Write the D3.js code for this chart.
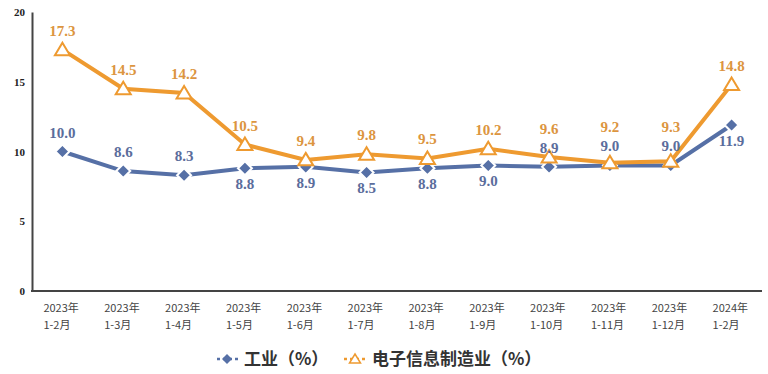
<!DOCTYPE html>
<html>
<head>
<meta charset="utf-8">
<script src="https://cdn.jsdelivr.net/npm/d3@7"></script>
<style>
  body { margin: 0; background: #fff; }
  svg { display: block; }
</style>
</head>
<body>
<svg id="chart" width="768" height="374"></svg>
<script>
// data
var periods = ['1-2月', '1-3月', '1-4月', '1-5月', '1-6月', '1-7月', '1-8月', '1-9月', '1-10月', '1-11月', '1-12月', '1-2月'];
var years = ['2023年', '2023年', '2023年', '2023年', '2023年', '2023年', '2023年', '2023年', '2023年', '2023年', '2023年', '2024年'];
var industry = [10.0, 8.6, 8.3, 8.8, 8.9, 8.5, 8.8, 9.0, 8.9, 9.0, 9.0, 11.9];
var electronics = [17.3, 14.5, 14.2, 10.5, 9.4, 9.8, 9.5, 10.2, 9.6, 9.2, 9.3, 14.8];
var yTicks = [0, 5, 10, 15, 20];
var seriesNames = ['工业（%）', '电子信息制造业（%）'];
// which side of the point each industry label sits on ('stack' = above, under the orange label)
var industryLabelSide = ['up', 'up', 'up', 'down', 'down', 'down', 'down', 'down', 'stack', 'stack', 'stack', 'down'];

var BLUE = '#5670a6',
    BLUE_TEXT = '#5b6d9c',
    ORANGE = '#ee9a30',
    ORANGE_TEXT = '#dc9540',
    LEFT = 32, RIGHT = 762, TOP = 12, BOTTOM = 291;

var svg = d3.select('#chart');
var keys = d3.range(periods.length);

var x = d3.scalePoint()
    .domain(keys)
    .range([LEFT, RIGHT])
    .padding(0.5);

var y = d3.scaleLinear()
    .domain([0, 20])
    .range([BOTTOM, TOP]);

// y axis: line plus numbers
var yAxis = svg.append('g')
    .attr('transform', `translate(${LEFT},0)`)
    .call(d3.axisLeft(y).tickValues(yTicks).tickSize(0).tickPadding(7).tickSizeOuter(0));
yAxis.select('.domain').attr('stroke', '#444').attr('stroke-width', 2);
yAxis.selectAll('text')
    .attr('font-family', '"Liberation Serif", serif')
    .attr('font-weight', 'bold')
    .attr('font-size', 11)
    .attr('fill', '#222');

// x axis
var xAxis = svg.append('g')
    .attr('transform', `translate(0,${BOTTOM})`)
    .call(d3.axisBottom(x).tickSize(0).tickSizeOuter(0).tickFormat(''));
xAxis.select('.domain').attr('stroke', '#444').attr('stroke-width', 2);
xAxis.select('.domain').attr('d', `M${LEFT - 1},0H${RIGHT}`);

var catLabels = svg.append('g')
    .attr('font-family', '"Noto Sans CJK SC", sans-serif')
    .attr('font-size', 11)
    .attr('fill', '#444');
keys.forEach(i => {
    var t = catLabels.append('text')
        .attr('x', x(i) - 19)
        .attr('y', 312);
    t.append('tspan').attr('x', x(i) - 19).text(years[i]);
    t.append('tspan').attr('x', x(i) - 19).attr('dy', 17).text(periods[i]);
});

var line = d3.line()
    .x((d, i) => x(i))
    .y(d => y(d));

// industry series (blue diamonds)
svg.append('path')
    .datum(industry)
    .attr('d', line)
    .attr('fill', 'none')
    .attr('stroke', BLUE)
    .attr('stroke-width', 4);

svg.append('g').selectAll('path')
    .data(industry)
    .join('path')
    .attr('transform', (d, i) => `translate(${x(i)},${y(d)})`)
    .attr('d', 'M0,-7L7,0L0,7L-7,0Z')
    .attr('fill', BLUE)
    .attr('stroke', '#fff')
    .attr('stroke-width', 2);

// electronics series (orange hollow triangles)
svg.append('path')
    .datum(electronics)
    .attr('d', line)
    .attr('fill', 'none')
    .attr('stroke', ORANGE)
    .attr('stroke-width', 4);

svg.append('g').selectAll('path')
    .data(electronics)
    .join('path')
    .attr('transform', (d, i) => `translate(${x(i)},${y(d)})`)
    .attr('d', 'M0,-7L7.5,5.5L-7.5,5.5Z')
    .attr('fill', '#fff')
    .attr('stroke', ORANGE)
    .attr('stroke-width', 2);

// value labels
var labelFont = '"Liberation Serif", serif';
svg.append('g').selectAll('text')
    .data(electronics)
    .join('text')
    .attr('x', (d, i) => x(i))
    .attr('y', (d, i) => industryLabelSide[i] === 'stack' ? y(industry[i]) - 33 : y(d) - 14)
    .attr('text-anchor', 'middle')
    .attr('font-family', labelFont)
    .attr('font-weight', 'bold')
    .attr('font-size', 15)
    .attr('fill', ORANGE_TEXT)
    .text(d => d.toFixed(1));

svg.append('g').selectAll('text')
    .data(industry)
    .join('text')
    .attr('x', (d, i) => x(i))
    .attr('y', (d, i) => {
        var side = industryLabelSide[i];
        if (side === 'stack') return y(d) - 14;
        return side === 'up' ? y(d) - 14 : y(d) + 21;
    })
    .attr('text-anchor', 'middle')
    .attr('font-family', labelFont)
    .attr('font-weight', 'bold')
    .attr('font-size', 15)
    .attr('fill', BLUE_TEXT)
    .text(d => d.toFixed(1));

// legend
var legend = svg.append('g')
    .attr('font-family', '"Noto Sans CJK SC", sans-serif')
    .attr('font-weight', 'bold')
    .attr('font-size', 17)
    .attr('fill', '#333');

var lg1 = legend.append('g').attr('transform', 'translate(227,359)');
lg1.append('line').attr('x1', -10).attr('x2', 11)
    .attr('stroke', BLUE).attr('stroke-width', 2.5).attr('stroke-dasharray', '3,3');
lg1.append('path').attr('d', 'M0,-5L5,0L0,5L-5,0Z').attr('fill', BLUE);
lg1.append('text').attr('x', 17).attr('y', 6).text(seriesNames[0]);

var lg2 = legend.append('g').attr('transform', 'translate(355,359)');
lg2.append('line').attr('x1', -11).attr('x2', 11)
    .attr('stroke', ORANGE).attr('stroke-width', 2.5).attr('stroke-dasharray', '3,3');
lg2.append('path').attr('d', 'M0,-5L5.5,4L-5.5,4Z')
    .attr('fill', '#fff').attr('stroke', ORANGE).attr('stroke-width', 1.5);
lg2.append('text').attr('x', 17).attr('y', 6).text(seriesNames[1]);
</script>
</body>
</html>
